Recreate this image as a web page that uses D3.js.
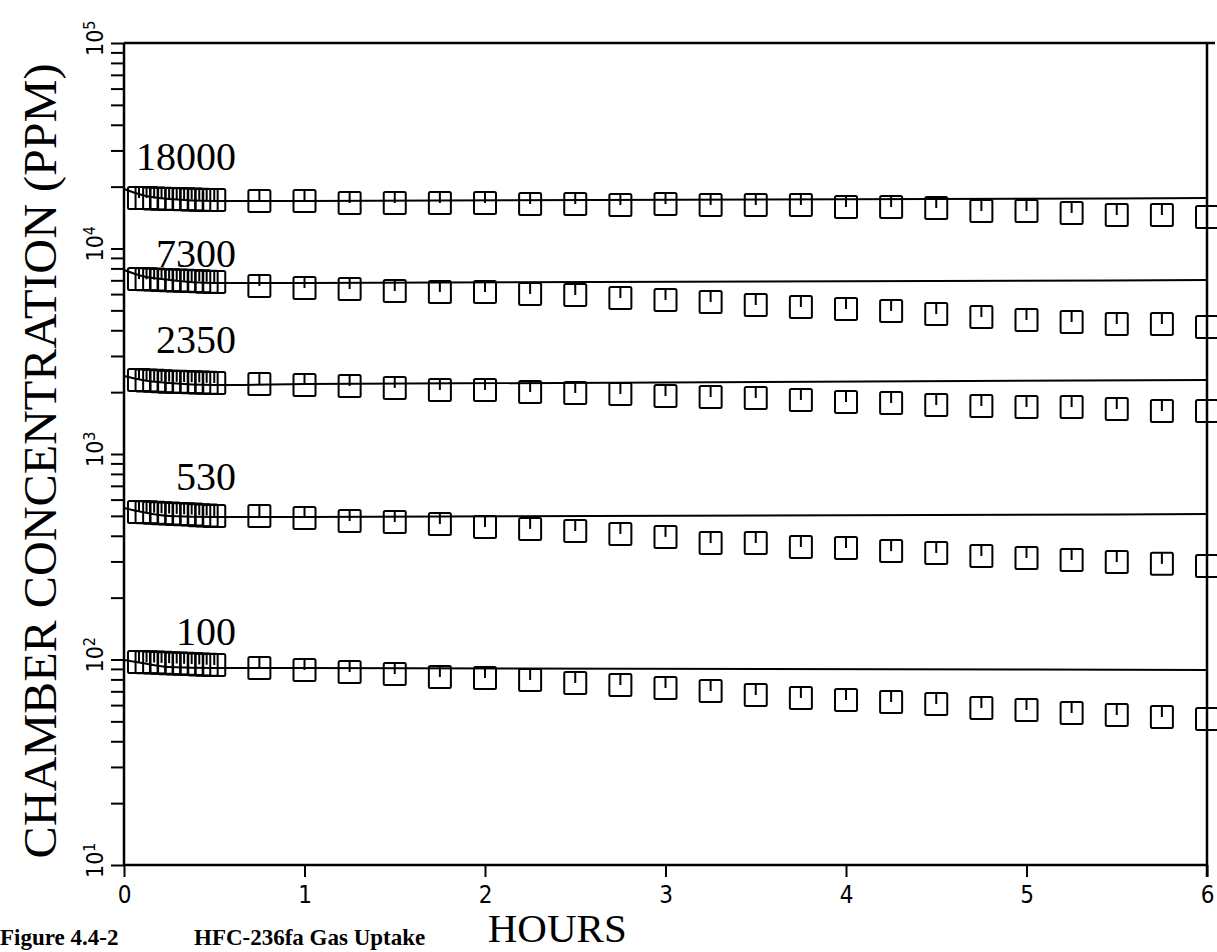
<!DOCTYPE html>
<html>
<head>
<meta charset="utf-8">
<script src="https://cdn.jsdelivr.net/npm/d3@7"></script>
<style>
  body { margin: 0; background: #fff; }
  svg { display: block; }
</style>
</head>
<body>
<div id="chart"></div>
<script>
// sample times (hours)
const hours = [0.083, 0.125, 0.167, 0.208, 0.25, 0.292, 0.333, 0.375, 0.417, 0.458, 0.5,
  0.75, 1, 1.25, 1.5, 1.75, 2, 2.25, 2.5, 2.75, 3, 3.25,
  3.5, 3.75, 4, 4.25, 4.5, 4.75, 5, 5.25, 5.5, 5.75, 6];

// measured chamber concentrations (ppm)
const ppm18000 = [17600, 17600, 17500, 17450, 17400, 17400, 17350, 17300, 17250, 17200, 17200,
  17030, 17030, 16650, 16650, 16650, 16650, 16460, 16460, 16280, 16460, 16280,
  16280, 16280, 15920, 15920, 15740, 15220, 15220, 14880, 14550, 14550, 14230];
const ppm7300 = [7100, 7080, 7060, 7030, 7010, 6990, 6960, 6940, 6920, 6890, 6870,
  6570, 6420, 6350, 6210, 6140, 6140, 6010, 5940, 5740, 5620, 5490,
  5310, 5190, 5080, 4970, 4800, 4640, 4490, 4390, 4290, 4290, 4150];
const ppm2350 = [2290, 2280, 2270, 2260, 2250, 2245, 2240, 2235, 2230, 2220, 2215,
  2190, 2167, 2142, 2095, 2048, 2048, 2003, 1981, 1959, 1915, 1894,
  1873, 1831, 1791, 1771, 1731, 1712, 1693, 1693, 1656, 1619, 1619];
const ppm530 = [522, 520, 518, 515, 513, 511, 509, 507, 504, 502, 499,
  499, 488, 472, 467, 456, 441, 432, 422, 408, 395, 369,
  369, 353, 349, 337, 330, 319, 312, 305, 298, 292, 285];
const ppm100 = [97.2, 96.9, 96.6, 96.3, 96.0, 95.6, 95.3, 95.0, 94.6, 94.3, 94.0,
  90.9, 88.9, 86.9, 85.0, 82.2, 81.3, 79.5, 76.9, 75.1, 72.7, 70.3,
  67.2, 65.0, 63.5, 62.1, 60.7, 58.1, 56.8, 54.9, 53.7, 52.5, 51.3];

// model curves
const fitHours = [0, 0.1, 0.25, 0.5, 1, 6];
const fit18000 = [19480, 18210, 17410, 17030, 17030, 17610];
const fit7300 = [7860, 7350, 7030, 6800, 6800, 7030];
const fit2350 = [2396, 2291, 2215, 2167, 2190, 2291];
const fit530 = [546, 522, 499, 494, 494, 511];
const fit100 = [99.5, 96.2, 91.9, 90.9, 90.9, 88.9];

const labels = ["18000", "7300", "2350", "530", "100"];
const xTicks = [0, 1, 2, 3, 4, 5, 6];
const decades = [1, 2, 3, 4, 5];

const series = [
  { label: labels[0], pts: ppm18000, fit: fit18000, dy: -19 },
  { label: labels[1], pts: ppm7300, fit: fit7300, dy: -3 },
  { label: labels[2], pts: ppm2350, fit: fit2350, dy: -23 },
  { label: labels[3], pts: ppm530, fit: fit530, dy: -18 },
  { label: labels[4], pts: ppm100, fit: fit100, dy: -15 }
];

const W = 1217, H = 952;
const pLeft = 124, pRight = 1207, pTop = 43, pBottom = 865;
const serif = "'Liberation Serif', 'Times New Roman', serif";
const plotter = "'DejaVu Sans Condensed', 'DejaVu Sans', sans-serif";

const svg = d3.select("#chart").append("svg")
  .attr("width", W)
  .attr("height", H);

let x = d3.scaleLinear().domain([0, 6]).range([pLeft, pRight]);
let y = d3.scaleLog().domain([10, 1e5]).range([pBottom, pTop]);

// minor + major y ticks, 10 .. 1e5
let yTickVals = [10];
decades.forEach(function (e) {
  for (let m = 2; m <= 10; m++) yTickVals.push(m * Math.pow(10, e));
});
yTickVals = yTickVals.filter(v => v <= 1e5);

svg.append("g")
  .attr("transform", "translate(" + pLeft + ",0)")
  .call(d3.axisLeft(y).tickValues(yTickVals).tickSize(13).tickFormat(""))
  .call(g => g.select(".domain").remove())
  .call(g => g.selectAll(".tick line").attr("stroke", "#000").attr("stroke-width", 2));

svg.append("g")
  .attr("transform", "translate(0," + pBottom + ")")
  .call(d3.axisBottom(x).tickValues(xTicks).tickSize(12).tickPadding(9).tickFormat(d3.format("d")))
  .call(g => g.select(".domain").remove())
  .call(g => g.selectAll(".tick line").attr("stroke", "#000").attr("stroke-width", 2))
  .call(g => g.selectAll(".tick text")
    .attr("fill", "#000")
    .attr("font-family", plotter)
    .attr("font-size", 24)
    .attr("dy", "0.71em"));

// decade labels 10^n, rotated
const yl = svg.append("g");
decades.forEach(function (e) {
  const t = yl.append("text")
    .attr("transform", "translate(103," + (y(Math.pow(10, e)) + 13) + ") rotate(-90)")
    .attr("font-family", plotter)
    .attr("font-size", 23)
    .attr("fill", "#000");
  t.append("tspan").text("10");
  t.append("tspan").attr("dy", -8).attr("font-size", 16).text(e);
});

// frame
svg.append("g")
  .attr("fill", "none")
  .attr("stroke", "#000")
  .attr("stroke-width", 2.5)
  .call(g => {
    g.append("line").attr("x1", pLeft).attr("x2", pLeft).attr("y1", pTop).attr("y2", pBottom + 1);
    g.append("line").attr("x1", pLeft).attr("x2", pRight).attr("y1", pBottom).attr("y2", pBottom);
    g.append("line").attr("x1", pLeft).attr("x2", W - 2).attr("y1", pTop).attr("y2", pTop);
    g.append("line").attr("x1", pRight).attr("x2", pRight).attr("y1", pTop).attr("y2", pBottom + 12);
  });

const line = d3.line()
  .curve(d3.curveMonotoneX)
  .x((d, i) => x(fitHours[i]))
  .y(d => y(d));

const sq = 22;

series.forEach(function (s) {
  svg.append("path")
    .datum(s.fit)
    .attr("d", line)
    .attr("fill", "none")
    .attr("stroke", "#000")
    .attr("stroke-width", 2);

  const m = svg.append("g").selectAll("g")
    .data(s.pts)
    .join("g")
    .attr("transform", (d, i) => "translate(" + x(hours[i]) + "," + y(d) + ")");

  m.append("rect")
    .attr("x", -sq / 2).attr("y", -sq / 2)
    .attr("width", sq).attr("height", sq)
    .attr("rx", 1.5)
    .attr("fill", "none")
    .attr("stroke", "#000")
    .attr("stroke-width", 2);

  m.append("line")
    .attr("x1", 0).attr("x2", 0)
    .attr("y1", -sq / 2).attr("y2", 0)
    .attr("stroke", "#000")
    .attr("stroke-width", 2);

  svg.append("text")
    .attr("x", x(0.62))
    .attr("y", y(s.fit[0]) + s.dy)
    .attr("text-anchor", "end")
    .attr("font-family", serif)
    .attr("font-size", 40)
    .attr("fill", "#000")
    .text(s.label);
});

// axis titles
svg.append("text")
  .attr("transform", "translate(56,461) rotate(-90)")
  .attr("text-anchor", "middle")
  .attr("font-family", serif)
  .attr("font-size", 47)
  .attr("textLength", 795)
  .attr("lengthAdjust", "spacingAndGlyphs")
  .attr("fill", "#000")
  .text("CHAMBER CONCENTRATION (PPM)");

svg.append("text")
  .attr("x", x(2.4))
  .attr("y", 942)
  .attr("text-anchor", "middle")
  .attr("font-family", serif)
  .attr("font-size", 41)
  .attr("fill", "#000")
  .text("HOURS");

// caption
svg.append("text")
  .attr("x", 0)
  .attr("y", 945)
  .attr("font-family", serif)
  .attr("font-weight", "bold")
  .attr("font-size", 23)
  .attr("fill", "#000")
  .call(t => {
    t.append("tspan").text("Figure 4.4-2");
    t.append("tspan").attr("x", 194).text("HFC-236fa Gas Uptake");
  });
</script>
</body>
</html>
